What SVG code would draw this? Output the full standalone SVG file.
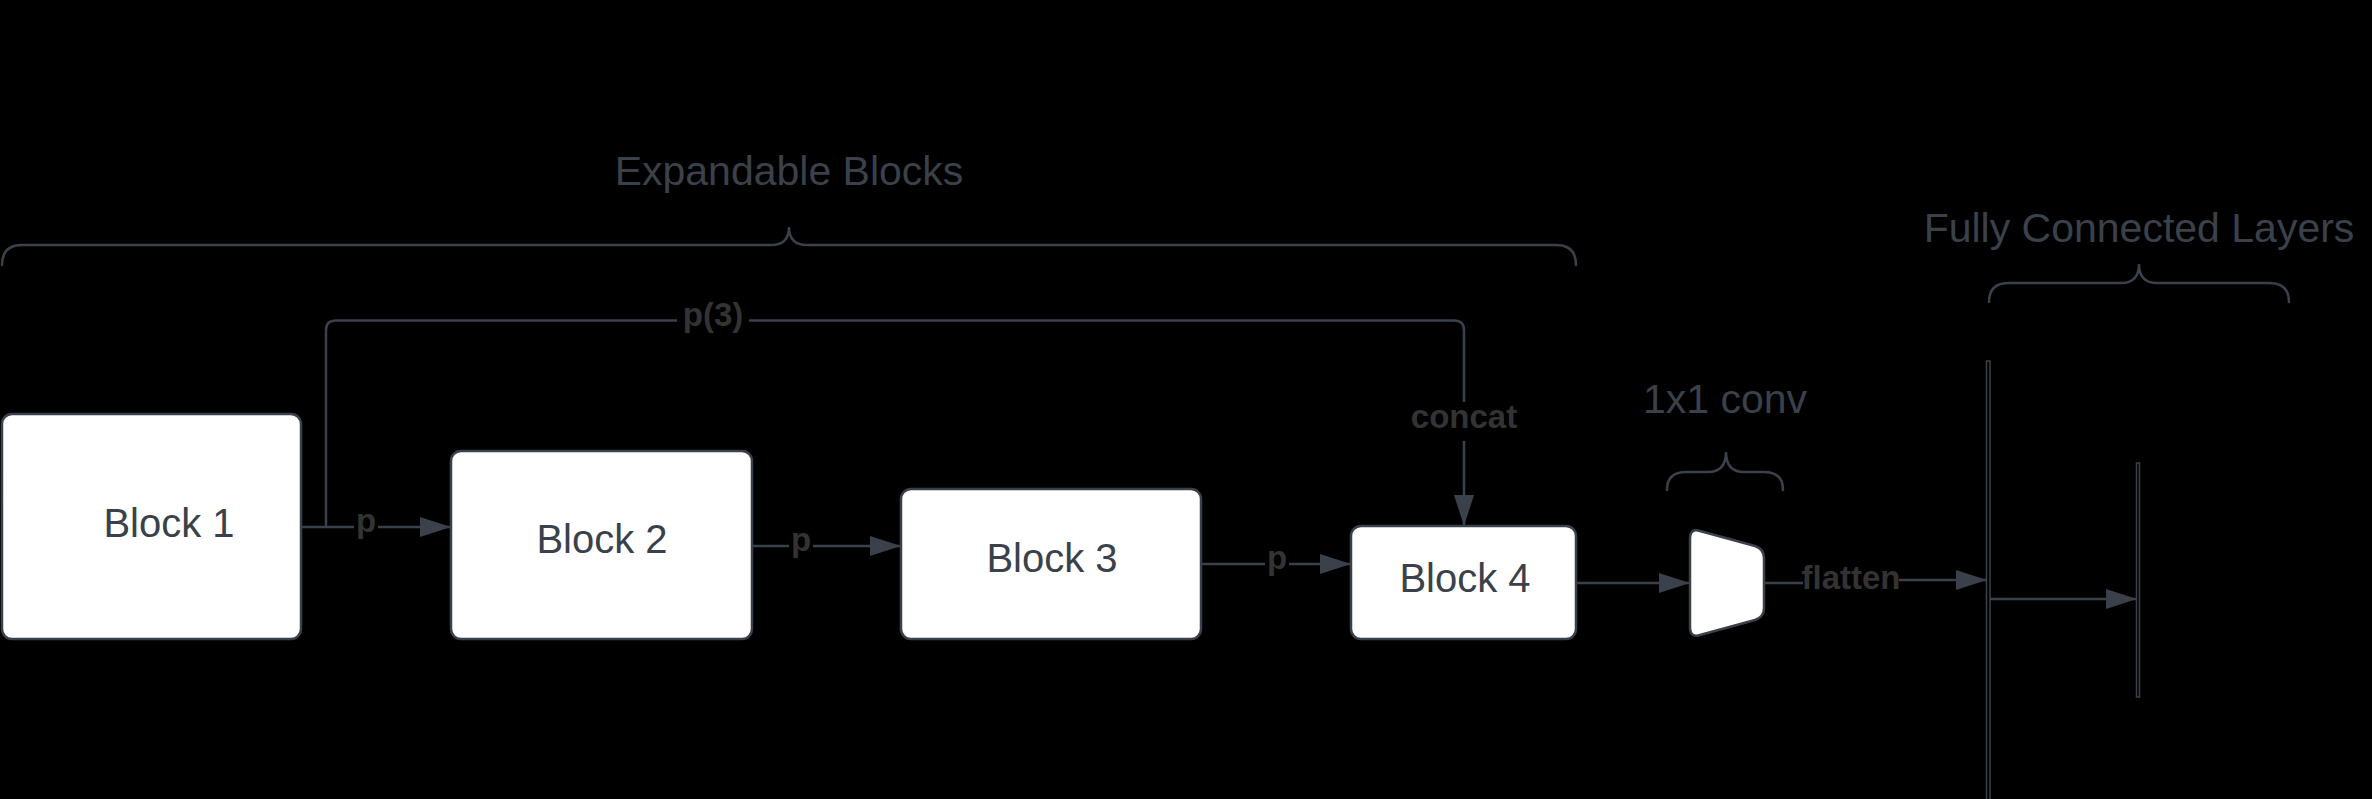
<svg xmlns="http://www.w3.org/2000/svg" width="2372" height="799" viewBox="0 0 2372 799">
<style>
.ln{fill:none;stroke:#3a414a;stroke-width:2.5;stroke-linejoin:round}
.br{fill:none;stroke:#3a414a;stroke-width:2.5;stroke-linecap:round}
.box{fill:#ffffff;stroke:#3a414a;stroke-width:2.5}
.bt{font-family:"Liberation Sans",Arial,sans-serif;font-size:40px;fill:#3a414a;text-anchor:middle}
.tt{font-family:"Liberation Sans",Arial,sans-serif;font-size:41px;fill:#3a414a;text-anchor:middle}
.el{font-family:"Liberation Sans",Arial,sans-serif;font-size:33px;font-weight:bold;fill:#333333;text-anchor:middle}
.bg{fill:#000000}
</style>
<defs>
<marker id="ah" markerUnits="userSpaceOnUse" markerWidth="31" markerHeight="20" viewBox="0 0 31 20" refX="31" refY="10" orient="auto">
<path d="M0,0 L31,10 L0,20 Z" fill="#3a414a"/>
</marker>
</defs>
<rect x="0" y="0" width="2372" height="799" fill="#000000"/>

<g id="brace-expandable">
<path class="br" d="M2,265 Q2,245 22,245 H771 Q789,245 789,227 Q789,245 807,245 H1556 Q1576,245 1576,265"/>
<text class="tt" x="789" y="185">Expandable Blocks</text>
</g>
<g id="brace-fc">
<path class="br" d="M1989,302 Q1989,283 2009,283 H2121 Q2139,283 2139,264 Q2139,283 2157,283 H2269 Q2289,283 2289,302"/>
<text class="tt" x="2139" y="242">Fully Connected Layers</text>
</g>
<g id="brace-conv">
<path class="br" d="M1667,490 Q1667,472 1686,472 H1708 Q1726,472 1726,452 Q1726,472 1744,472 H1764 Q1783,472 1783,490"/>
<text class="tt" x="1725" y="413">1x1 conv</text>
</g>

<g id="connectors">
<path class="ln" d="M301,527 H451" marker-end="url(#ah)"/>
<path class="ln" d="M326,527 V330 Q326,320.5 336,320.5 H1454 Q1464,320.5 1464,330 V526" marker-end="url(#ah)"/>
<path class="ln" d="M752,546 H901" marker-end="url(#ah)"/>
<path class="ln" d="M1201,564 H1351" marker-end="url(#ah)"/>
<path class="ln" d="M1576,583 H1690" marker-end="url(#ah)"/>
<path class="ln" d="M1764,583 H1851 V580 H1987" marker-end="url(#ah)"/>
<path class="ln" d="M1988,599 H2137" marker-end="url(#ah)"/>
<rect class="bg" x="354" y="510" width="24" height="34"/>
<text class="el" x="366" y="532">p</text>
<rect class="bg" x="789" y="529" width="24" height="34"/>
<text class="el" x="801" y="551">p</text>
<rect class="bg" x="1265" y="547" width="24" height="34"/>
<text class="el" x="1277" y="569">p</text>
<rect class="bg" x="677" y="304" width="72" height="34"/>
<text class="el" x="713" y="326">p(3)</text>
<rect class="bg" x="1406" y="402" width="116" height="39"/>
<text class="el" x="1464" y="428">concat</text>
<rect class="bg" x="1803" y="562" width="96" height="36"/>
<text class="el" x="1851" y="589">flatten</text>
</g>

<g id="block1">
<rect class="box" x="2" y="414" width="299" height="225" rx="10"/>
<text class="bt" x="169" y="537">Block 1</text>
</g>
<g id="block2">
<rect class="box" x="451" y="451" width="301" height="188" rx="10"/>
<text class="bt" x="602" y="553">Block 2</text>
</g>
<g id="block3">
<rect class="box" x="901" y="489" width="300" height="150" rx="10"/>
<text class="bt" x="1052" y="572">Block 3</text>
</g>
<g id="block4">
<rect class="box" x="1351" y="526" width="225" height="113" rx="10"/>
<text class="bt" x="1465" y="592">Block 4</text>
</g>
<g id="conv">
<path class="box" d="M1690,539 Q1690,528 1700,531 L1755,546 Q1764,549 1764,558 L1764,608 Q1764,617 1755,620 L1700,635 Q1690,638 1690,627 Z"/>
</g>
<g id="fc-layer1">
<rect x="1986.5" y="361" width="3.5" height="440" fill="#000000" stroke="#3a414a" stroke-width="1.5"/>
</g>
<g id="fc-layer2">
<rect x="2136.5" y="463" width="3" height="234" fill="#000000" stroke="#3a414a" stroke-width="1.5"/>
</g>
</svg>
